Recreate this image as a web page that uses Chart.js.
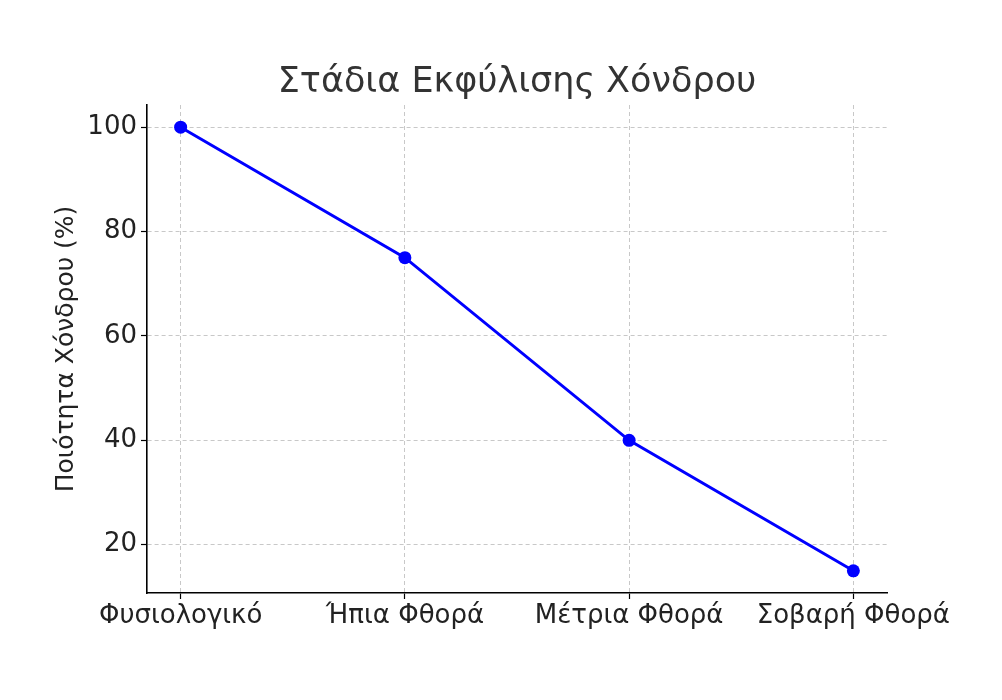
<!DOCTYPE html>
<html>
<head>
<meta charset="utf-8">
<script src="https://cdn.jsdelivr.net/npm/chart.js@4"></script>
<style>
html,body{margin:0;padding:0;background:#fff;}
#wrap{width:1002px;height:700px;position:relative;}
</style>
</head>
<body>
<div id="wrap"><canvas id="c" width="1002" height="700"></canvas></div>
<script>
const categories = ["Φυσιολογικό", "Ήπια Φθορά", "Μέτρια Φθορά", "Σοβαρή Φθορά"];
const quality = [100, 75, 40, 15];
const yTicks = [20, 40, 60, 80, 100];
const titleText = "Στάδια Εκφύλισης Χόνδρου";
const yLabel = "Ποιότητα Χόνδρου (%)";

const FONT = "'DejaVu Sans', sans-serif";
const TXT = "#222222";

const titlePlugin = {
  id: 'mplTitle',
  afterDraw(chart) {
    const {ctx, chartArea} = chart;
    ctx.save();
    ctx.font = "35px " + FONT;
    ctx.fillStyle = "#333333";
    ctx.textAlign = "center";
    ctx.textBaseline = "alphabetic";
    ctx.fillText(titleText, (chartArea.left + chartArea.right) / 2, 92);
    ctx.restore();
  }
};

new Chart(document.getElementById('c'), {
  type: 'line',
  data: {
    datasets: [{
      data: quality.map((v, i) => ({x: i, y: v})),
      borderColor: '#0000ff',
      backgroundColor: '#0000ff',
      borderWidth: 3,
      pointRadius: 6.5,
      pointHoverRadius: 6.5,
      pointBorderWidth: 0,
      tension: 0,
      fill: false
    }]
  },
  options: {
    responsive: false,
    animation: false,
    devicePixelRatio: 1,
    layout: {padding: {top: 105, right: 115, left: 0, bottom: 0}},
    plugins: {legend: {display: false}, tooltip: {enabled: false}, title: {display: false}},
    scales: {
      x: {
        type: 'linear',
        min: -0.15,
        max: 3.15,
        afterBuildTicks(scale) { scale.ticks = categories.map((c, i) => ({value: i})); },
        afterFit(scale) { scale.height = 107; },
        ticks: {
          callback: (v) => categories[v] ?? '',
          font: {family: FONT, size: 26},
          color: TXT,
          padding: 2,
          maxRotation: 0,
          autoSkip: false
        },
        grid: {
          color: 'rgba(176,176,176,0.7)',
          lineWidth: 1,
          drawTicks: true,
          tickLength: 6,
          tickColor: '#000',
          tickWidth: 1.2
        },
        border: {display: true, color: '#000', width: 1.6, dash: [4, 3]}
      },
      y: {
        type: 'linear',
        min: 10.75,
        max: 104.25,
        afterBuildTicks(scale) { scale.ticks = yTicks.map(v => ({value: v})); },
        afterFit(scale) { scale.width = 147; },
        ticks: {
          font: {family: FONT, size: 26},
          color: TXT,
          padding: 4
        },
        title: {
          display: true,
          text: yLabel,
          font: {family: FONT, size: 25},
          color: TXT,
          padding: {top: 51, bottom: 0}
        },
        grid: {
          color: 'rgba(176,176,176,0.7)',
          lineWidth: 1,
          drawTicks: true,
          tickLength: 6,
          tickColor: '#000',
          tickWidth: 1.2
        },
        border: {display: true, color: '#000', width: 1.6, dash: [4, 3]}
      }
    }
  },
  plugins: [titlePlugin]
});
</script>
</body>
</html>
